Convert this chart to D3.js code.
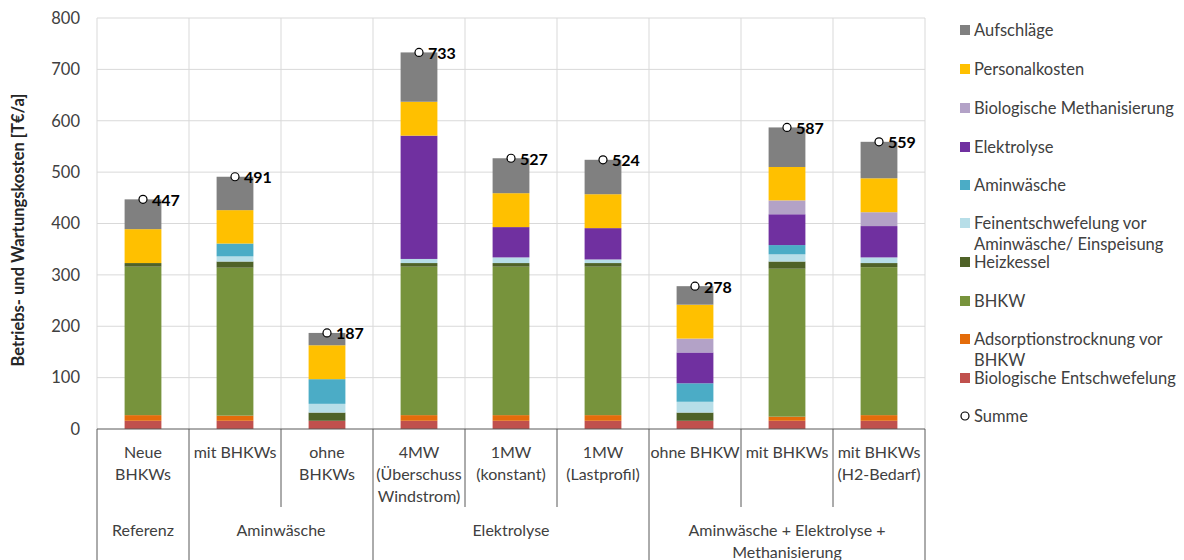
<!DOCTYPE html>
<html>
<head>
<meta charset="utf-8">
<script src="https://cdn.jsdelivr.net/npm/d3@7/dist/d3.min.js"></script>
<style>
  body { margin: 0; background: #fff; }
  text { font-family: Lato, "Open Sans", sans-serif; fill: #404040; }
</style>
</head>
<body>
<svg id="chart" width="1184" height="560"></svg>
<script>
// categories (one line per array entry)
const categories = [
    ["Neue", "BHKWs"],
    ["mit BHKWs"],
    ["ohne", "BHKWs"],
    ["4MW", "(Überschuss", "Windstrom)"],
    ["1MW", "(konstant)"],
    ["1MW", "(Lastprofil)"],
    ["ohne BHKW"],
    ["mit BHKWs"],
    ["mit BHKWs", "(H2-Bedarf)"]
];
const groups = [
    { label: ["Referenz"], count: 1 },
    { label: ["Aminwäsche"], count: 2 },
    { label: ["Elektrolyse"], count: 3 },
    { label: ["Aminwäsche + Elektrolyse +", "Methanisierung"], count: 3 }
];

// series values, stacked bottom to top
const bioEntschwefelung = [16, 16, 16, 16, 16, 16, 16, 16, 16];
const adsorption        = [11, 10, 0, 11, 11, 11, 0, 8, 11];
const bhkw              = [289, 288, 0, 289, 289, 289, 0, 288, 288];
const heizkessel        = [7, 12, 16, 7, 7, 7, 16, 14, 8];
const feinentschwefel   = [0, 10, 17, 8, 11, 7, 21, 14, 11];
const aminwaesche       = [0, 25, 48, 0, 0, 0, 36, 18, 0];
const elektrolyse       = [0, 0, 0, 240, 59, 61, 60, 60, 61];
const bioMethan         = [0, 0, 0, 0, 0, 0, 27, 27, 27];
const personalkosten    = [66, 65, 66, 66, 66, 66, 66, 65, 66];
const aufschlaege       = [58, 65, 24, 96, 68, 67, 36, 77, 71];

const yTicks = [0, 100, 200, 300, 400, 500, 600, 700, 800];

const series = [
    { key: "bioEnt", name: ["Biologische Entschwefelung"], values: bioEntschwefelung, color: "#C0504D" },
    { key: "adsorp", name: ["Adsorptionstrocknung vor", "BHKW"], values: adsorption, color: "#E46C0A" },
    { key: "bhkw", name: ["BHKW"], values: bhkw, color: "#77933C" },
    { key: "heiz", name: ["Heizkessel"], values: heizkessel, color: "#4F6228" },
    { key: "fein", name: ["Feinentschwefelung vor", "Aminwäsche/ Einspeisung"], values: feinentschwefel, color: "#B7DEE8" },
    { key: "amin", name: ["Aminwäsche"], values: aminwaesche, color: "#4BACC6" },
    { key: "elek", name: ["Elektrolyse"], values: elektrolyse, color: "#7030A0" },
    { key: "meth", name: ["Biologische Methanisierung"], values: bioMethan, color: "#B3A2C7" },
    { key: "pers", name: ["Personalkosten"], values: personalkosten, color: "#FFC000" },
    { key: "auf", name: ["Aufschläge"], values: aufschlaege, color: "#808080" }
];

const svg = d3.select("#chart");
const plot = { left: 97, right: 925, top: 18, bottom: 429 };

const x = d3.scaleBand()
    .domain(categories.map((d, i) => i))
    .range([plot.left, plot.right])
    .padding(0);
const y = d3.scaleLinear()
    .domain([0, 800])
    .range([plot.bottom, plot.top]);

// table rows for stacking
const rows = categories.map((c, i) => {
    const row = { idx: i };
    series.forEach(s => row[s.key] = s.values[i]);
    return row;
});
const stack = d3.stack().keys(series.map(s => s.key));
const stacked = stack(rows);
const totals = rows.map(r => d3.sum(series, s => r[s.key]));

// gridlines
svg.append("g")
    .selectAll("line")
    .data(yTicks.filter(t => t > 0))
    .join("line")
    .attr("x1", plot.left).attr("x2", plot.right)
    .attr("y1", d => y(d)).attr("y2", d => y(d))
    .attr("stroke", "#d9d9d9").attr("stroke-width", 1);

svg.append("g")
    .selectAll("line")
    .data(d3.range(categories.length + 1))
    .join("line")
    .attr("x1", d => plot.left + d * x.bandwidth())
    .attr("x2", d => plot.left + d * x.bandwidth())
    .attr("y1", plot.top).attr("y2", plot.bottom)
    .attr("stroke", "#d9d9d9").attr("stroke-width", 1);

// y tick labels
svg.append("g")
    .selectAll("text")
    .data(yTicks)
    .join("text")
    .attr("x", 80)
    .attr("y", d => y(d))
    .attr("dy", "0.35em")
    .attr("text-anchor", "end")
    .style("font-size", "16.5px")
    .text(d => d);

// y title
svg.append("text")
    .attr("transform", `translate(18,230) rotate(-90)`)
    .attr("text-anchor", "middle")
    .attr("dy", "0.35em")
    .style("font-size", "16.5px")
    .style("font-weight", "bold")
    .style("fill", "#262626")
    .text("Betriebs- und Wartungskosten [T€/a]");

// bars
const barW = x.bandwidth() * 0.4;
svg.append("g")
    .selectAll("g")
    .data(stacked)
    .join("g")
    .attr("fill", (d, i) => series[i].color)
    .selectAll("rect")
    .data(d => d)
    .join("rect")
    .attr("x", (d, i) => x(i) + (x.bandwidth() - barW) / 2)
    .attr("y", d => y(d[1]))
    .attr("width", barW)
    .attr("height", d => y(d[0]) - y(d[1]));

// x axis line and category dividers
const axisColor = "#595959";
svg.append("line")
    .attr("x1", plot.left).attr("x2", plot.right)
    .attr("y1", plot.bottom).attr("y2", plot.bottom)
    .attr("stroke", axisColor);

let groupBounds = [0];
groups.forEach(g => groupBounds.push(groupBounds[groupBounds.length - 1] + g.count));
d3.range(categories.length + 1).forEach(i => {
    const isGroup = groupBounds.includes(i);
    svg.append("line")
        .attr("x1", plot.left + i * x.bandwidth())
        .attr("x2", plot.left + i * x.bandwidth())
        .attr("y1", plot.bottom)
        .attr("y2", isGroup ? 560 : 507)
        .attr("stroke", axisColor);
});

// category labels
const catText = svg.append("g")
    .selectAll("text")
    .data(categories)
    .join("text")
    .attr("text-anchor", "middle")
    .style("font-size", "16px");
catText.selectAll("tspan")
    .data((d, i) => d.map(line => ({ line, i })))
    .join("tspan")
    .attr("x", d => x(d.i) + x.bandwidth() / 2)
    .attr("y", (d, j) => 458 + j * 22)
    .text(d => d.line);

// group labels
groups.forEach((g, gi) => {
    const x0 = plot.left + groupBounds[gi] * x.bandwidth();
    const x1 = plot.left + groupBounds[gi + 1] * x.bandwidth();
    const t = svg.append("text")
        .attr("text-anchor", "middle")
        .style("font-size", "16px");
    g.label.forEach((line, j) => {
        t.append("tspan")
            .attr("x", (x0 + x1) / 2)
            .attr("y", 536 + j * 22)
            .text(line);
    });
});

// Summe markers
const sumG = svg.append("g");
sumG.selectAll("circle")
    .data(totals)
    .join("circle")
    .attr("cx", (d, i) => x(i) + x.bandwidth() / 2)
    .attr("cy", d => y(d))
    .attr("r", 4)
    .attr("fill", "#fff")
    .attr("stroke", "#000")
    .attr("stroke-width", 1.2);
sumG.selectAll("text")
    .data(totals)
    .join("text")
    .attr("x", (d, i) => x(i) + x.bandwidth() / 2 + 9)
    .attr("y", d => y(d))
    .attr("dy", "0.4em")
    .style("font-size", "16px")
    .style("font-weight", "bold")
    .style("fill", "#000")
    .text(d => d);

// legend
const legendItems = series.slice().reverse().map(s => ({ name: s.name, color: s.color }));
legendItems.push({ name: ["Summe"], color: null });
const legendY = [30, 69, 108, 147, 185, 223, 262, 301, 339, 378, 416];
const legend = svg.append("g");
legendItems.forEach((item, i) => {
    const cy = legendY[i];
    if (item.color) {
        legend.append("rect")
            .attr("x", 960).attr("y", cy - 5)
            .attr("width", 10).attr("height", 10)
            .attr("fill", item.color);
    } else {
        legend.append("circle")
            .attr("cx", 965).attr("cy", cy)
            .attr("r", 4)
            .attr("fill", "#fff").attr("stroke", "#000").attr("stroke-width", 1.2);
    }
    const t = legend.append("text")
        .style("font-size", "16.5px");
    item.name.forEach((line, j) => {
        t.append("tspan")
            .attr("x", 974)
            .attr("y", cy + j * 21)
            .attr("dy", "0.35em")
            .text(line);
    });
});
</script>
</body>
</html>
